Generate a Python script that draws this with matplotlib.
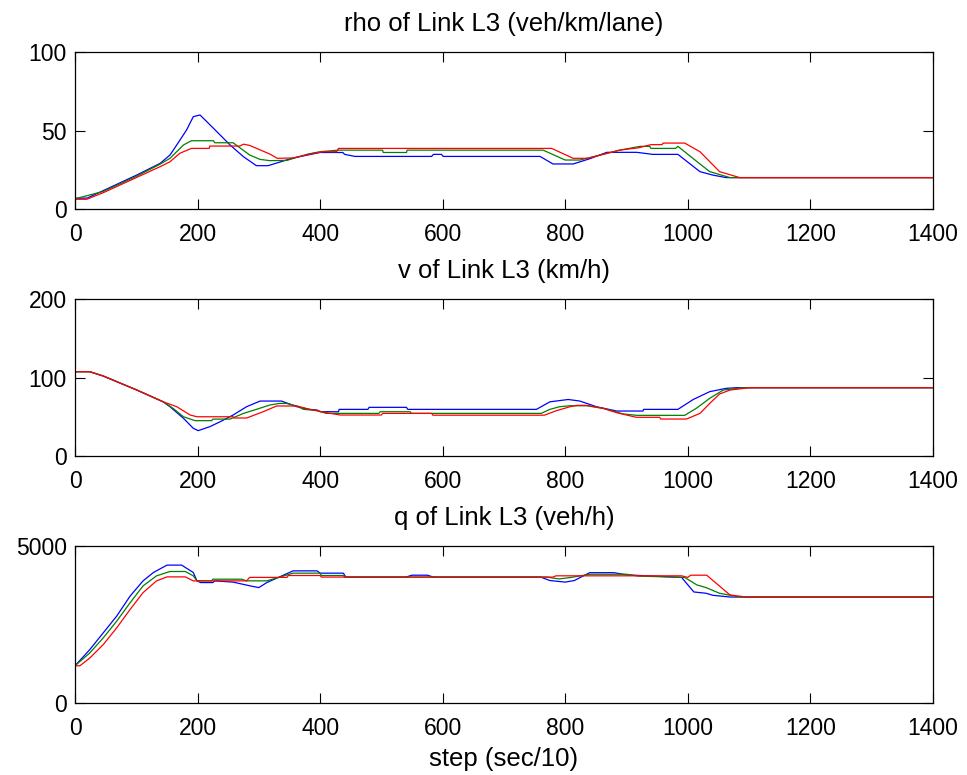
import matplotlib
matplotlib.use("Agg")
import matplotlib.pyplot as plt

plt.rcParams['font.family'] = ['Liberation Sans', 'DejaVu Sans']
plt.rcParams['font.size'] = 16

# -----------------------------
# DENSITY rho (veh/km/lane)
# -----------------------------
rho_blue_x = [0, 20, 46, 101, 139, 155, 166, 182, 193, 204, 226, 253, 275, 296, 315, 356, 400,
              437, 440, 457, 582, 585, 598, 601, 759, 780, 813, 840, 868, 917, 943, 984,
              1020, 1041, 1063, 1399]
rho_blue_y = [6.8, 7.0, 11.7, 21.7, 29.1, 34.4, 40.8, 50.3, 58.8, 59.9, 51.4, 40.8, 33.3, 27.6, 27.6, 32.5, 36.0,
              36.0, 34.8, 33.5, 33.5, 34.8, 34.8, 33.5, 33.5, 28.7, 28.7, 32.0, 36.1, 36.1, 34.8, 34.8,
              23.8, 21.6, 20.0, 20.0]

rho_green_x = [0, 46, 101, 139, 155, 177, 190, 226, 228, 258, 285, 302, 318, 346, 380, 400, 430,
               502, 503, 541, 542, 764, 800, 824, 889, 922, 938, 940, 980, 984,
               1020, 1036, 1069, 1399]
rho_green_y = [6.5, 11.2, 21.0, 28.6, 32.3, 40.8, 43.5, 43.5, 42.2, 42.2, 34.4, 31.6, 30.8, 31.0, 35.0, 36.5, 37.5,
               37.5, 36.0, 36.0, 37.5, 37.5, 31.2, 31.2, 37.5, 39.9, 39.9, 38.6, 38.6, 39.9,
               28.7, 23.8, 20.0, 20.0]

rho_red_x = [0, 19, 46, 101, 139, 155, 171, 190, 219, 220, 269, 275, 285, 318, 330, 356, 389, 405,
             427, 430, 778, 813, 837, 889, 920, 940, 958, 960, 995,
             1020, 1052, 1085, 1399]
rho_red_y = [6.2, 6.2, 10.4, 20.2, 27.0, 30.1, 35.5, 38.6, 38.6, 40.1, 40.1, 41.3, 40.5, 35.0, 32.3, 32.5, 35.5, 36.5,
             36.5, 38.6, 38.6, 32.3, 32.3, 37.5, 39.0, 41.0, 41.0, 42.0, 42.0,
             36.5, 23.8, 20.0, 20.0]

# -----------------------------
# SPEED v (km/h)
# -----------------------------
v_blue_x = [0, 24, 46, 101, 144, 155, 177, 193, 201, 220, 237, 258, 280, 302, 337, 362, 383, 395,
            400, 430, 431, 478, 480, 541, 543, 753, 775, 805, 824, 851, 884, 927, 928, 984,
            1009, 1036, 1063, 1080, 1399]
v_blue_y = [107.4, 107.4, 101.9, 84.0, 69.0, 62.8, 48.0, 35.3, 32.3, 37.4, 43.7, 52.2, 62.8, 70.0, 70.0, 62.8, 59.4, 58.6,
            56.4, 56.4, 59.4, 59.4, 62.0, 62.0, 59.4, 59.4, 69.0, 72.0, 70.0, 62.8, 57.3, 57.3, 59.4, 59.4,
            72.0, 82.0, 86.2, 87.0, 87.0]

v_green_x = [0, 24, 46, 101, 144, 160, 177, 196, 223, 225, 253, 275, 296, 318, 334, 345, 362, 373, 395,
             410, 496, 498, 547, 549, 761, 775, 791, 808, 835, 862, 895, 917, 995,
             1014, 1036, 1058, 1090, 1399]
v_green_y = [107.4, 107.4, 101.9, 84.0, 69.0, 60.7, 50.0, 45.0, 45.0, 47.0, 47.0, 54.3, 59.4, 65.0, 67.0, 67.0, 63.7, 59.4, 58.0,
             54.3, 54.3, 56.4, 56.4, 54.3, 54.3, 59.4, 62.8, 64.0, 64.0, 60.7, 53.5, 51.8, 51.8,
             60.7, 73.5, 84.0, 87.0, 87.0]

v_red_x = [0, 24, 46, 101, 144, 166, 188, 199, 258, 260, 280, 307, 329, 362, 383, 410, 433,
           500, 502, 582, 584, 766, 786, 808, 819, 835, 862, 884, 916, 954, 956, 998,
           1020, 1036, 1052, 1069, 1101, 1399]
v_red_y = [107.4, 107.4, 101.9, 84.0, 69.0, 62.8, 52.2, 50.0, 50.0, 48.4, 48.4, 56.4, 63.7, 63.7, 59.4, 55.2, 52.2,
           52.2, 54.3, 54.3, 52.0, 52.0, 57.8, 62.8, 64.5, 64.5, 60.7, 55.2, 49.3, 49.3, 47.1, 47.1,
           54.3, 67.0, 79.0, 84.0, 87.0, 87.0]

# -----------------------------
# FLOW q (veh/h)
# -----------------------------
q_blue_x = [0, 24, 46, 68, 90, 111, 128, 150, 174, 193, 199, 205, 225, 228, 258, 286, 300, 313, 356, 395,
            400, 438, 442, 540, 550, 575, 585, 760, 775, 800, 815, 840, 880, 900, 990,
            1010, 1030, 1041, 1069, 1399]
q_blue_y = [1186, 1699, 2233, 2767, 3408, 3889, 4156, 4391, 4391, 4156, 3889, 3835, 3835, 3889, 3850, 3729, 3675, 3835, 4208, 4208,
            4135, 4135, 4010, 4010, 4070, 4070, 4010, 4010, 3900, 3850, 3900, 4150, 4150, 4080, 4000,
            3536, 3494, 3430, 3375, 3375]

q_green_x = [0, 24, 46, 68, 90, 111, 133, 155, 180, 193, 199, 223, 225, 272, 280, 313, 356, 400,
             402, 438, 440, 770, 790, 810, 840, 900, 920, 995,
             1015, 1030, 1052, 1085, 1399]
q_green_y = [1186, 1592, 2073, 2607, 3195, 3729, 4049, 4188, 4188, 4049, 3889, 3889, 3942, 3942, 3889, 3889, 4135, 4135,
             4060, 4060, 4010, 4010, 3950, 4000, 4100, 4100, 4040, 4000,
             3760, 3675, 3494, 3375, 3375]

q_red_x = [0, 8, 24, 46, 68, 90, 111, 133, 150, 180, 193, 280, 285, 346, 348, 400, 402,
           780, 785, 990, 1000, 1005, 1031, 1069, 1096, 1399]
q_red_y = [1186, 1186, 1432, 1859, 2393, 2981, 3515, 3889, 4016, 4016, 3889, 3889, 4000, 4000, 4060, 4060, 4010,
           4010, 4050, 4050, 4000, 4070, 4070, 3440, 3375, 3375]

x_ticks = [0, 200, 400, 600, 800, 1000, 1200, 1400]

panels = [
    ("rho of Link L3 (veh/km/lane)", [0, 50, 100], (0, 100),
     [(rho_blue_x, rho_blue_y), (rho_green_x, rho_green_y), (rho_red_x, rho_red_y)]),
    ("v of Link L3 (km/h)", [0, 100, 200], (0, 200),
     [(v_blue_x, v_blue_y), (v_green_x, v_green_y), (v_red_x, v_red_y)]),
    ("q of Link L3 (veh/h)", [0, 5000], (0, 5000),
     [(q_blue_x, q_blue_y), (q_green_x, q_green_y), (q_red_x, q_red_y)]),
]
colors = ['#0000ff', '#008000', '#ff0000']
bottoms = [0.7303, 0.4116, 0.0929]

fig = plt.figure(figsize=(9.67, 7.75), dpi=100)

for (title, yticks, ylim, series), b in zip(panels, bottoms):
    ax = fig.add_axes([0.0776, b, 0.887, 0.2026])
    for (xs, ys), c in zip(series, colors):
        ax.plot(xs, ys, color=c, lw=0.9)
    ax.set_xlim(0, 1400)
    ax.set_ylim(*ylim)
    ax.set_xticks(x_ticks)
    ax.set_yticks(yticks)
    ax.set_title(title, fontsize=18.5, pad=15)
    ax.tick_params(direction='in', top=True, right=True, length=7, width=0.8, pad=6, labelsize=16.5)
    ax.tick_params(axis='x', pad=10)
    for sp in ax.spines.values():
        sp.set_linewidth(0.9)

ax.set_xlabel("step (sec/10)", fontsize=18.5, labelpad=5)

plt.savefig("out.png", dpi=100)
